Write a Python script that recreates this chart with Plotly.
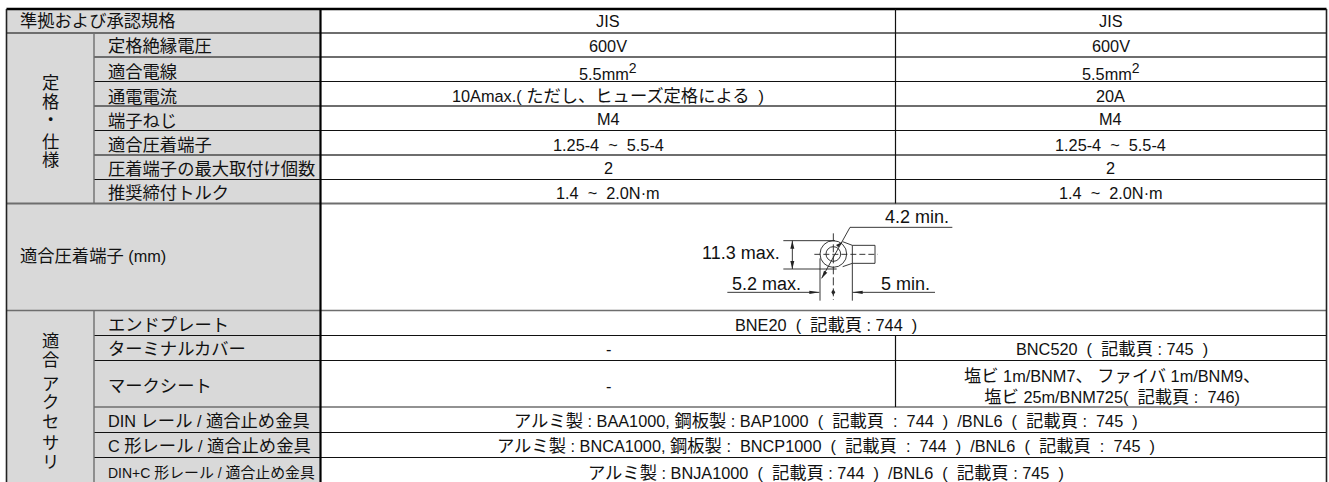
import re
import plotly.graph_objects as go

# ---- table content ----
standard_label = "準拠および承認規格"
standard_values = ["JIS", "JIS"]

spec_group = list("定格・仕様")
spec_labels = ["定格絶縁電圧", "適合電線", "通電電流", "端子ねじ", "適合圧着端子", "圧着端子の最大取付け個数", "推奨締付トルク"]
SUP2 = '<sup><span style="font-size:14px">2</span></sup>'
spec_col1 = ["600V", "5.5mm" + SUP2, "10Amax.( ただし、ヒューズ定格による  )", "M4", "1.25-4  ~  5.5-4", "2", "1.4  ~  2.0N·m"]
spec_col2 = ["600V", "5.5mm" + SUP2, "20A", "M4", "1.25-4  ~  5.5-4", "2", "1.4  ~  2.0N·m"]

terminal_label = "適合圧着端子 (mm)"
dim_labels = ["4.2 min.", "11.3 max.", "5.2 max.", "5 min."]

acc_group = list("適合アクセサリ")
acc_labels = ["エンドプレート", "ターミナルカバー", "マークシート", "DIN レール / 適合止め金具", "C 形レール / 適合止め金具", "DIN+C 形レール / 適合止め金具"]
acc_merged = {
    0: "BNE20  (  記載頁 : 744  )",
    3: "アルミ製 : BAA1000, 鋼板製 : BAP1000  (  記載頁  :  744  )  /BNL6  (  記載頁 :  745  )",
    4: "アルミ製 : BNCA1000, 鋼板製 :  BNCP1000  (  記載頁  :  744  )  /BNL6  (  記載頁  :  745  )",
    5: "アルミ製 : BNJA1000  (  記載頁 : 744  )  /BNL6  (  記載頁 : 745  )",
}
acc_split = {
    1: ["-", "BNC520  (  記載頁 : 745  )"],
    2: ["-", "塩ビ 1m/BNM7、 ファイバ 1m/BNM9、<br>塩ビ 25m/BNM725(  記載頁 :  746)"],
}

# ---- layout geometry ----
W, H = 1329, 482
X_L, X_G, X_H, X_C, X_R = 6.5, 94, 320.5, 895.5, 1326.5
Y_TOP = 9
SPEC_Y = [33, 57, 81.5, 106, 130.5, 155, 179.5, 203.5]
Y_DIAG = 310.5
ACC_Y = [335.5, 360.5, 407, 432.5, 457.5]
GRAY = "#6e6e6e"
BLACK = "#111111"
FILL = "#d9d9d9"
FONT = "Liberation Sans, Arial, Noto Sans CJK JP"
FS = 16.3
CJK_RATIO = 17.3 / 16.3

shapes, ann = [], []


def line(x0, y0, x1, y1, color=BLACK, w=1.2, dash=None):
    shapes.append(dict(type="line", x0=x0, y0=y0, x1=x1, y1=y1, layer="above",
                       line=dict(color=color, width=w, dash=dash)))


def rect(x0, y0, x1, y1):
    shapes.append(dict(type="rect", x0=x0, y0=y0, x1=x1, y1=y1, fillcolor=FILL, line=dict(width=0), layer="below"))


def widen_cjk(s, size):
    px = size * CJK_RATIO
    return re.sub(r"([^\x00-\x7f·]+)", lambda m: f'<span style="font-size:{px:.1f}px">{m.group(1)}</span>', s)


def text(x, y, s, anchor="center", size=FS):
    ann.append(dict(x=x, y=y, text=widen_cjk(s, size), showarrow=False, xanchor=anchor, yanchor="middle",
                    align="center", font=dict(family=FONT, size=size, color="#111111")))


rect(X_L, Y_TOP, X_H, H)

# rules
line(X_L, Y_TOP, X_R, Y_TOP, "#000000", 2.6)
light = {33, 57, 106, 155, 203.5}
for y in SPEC_Y[:-1]:
    x0 = X_L if y == SPEC_Y[0] else X_G
    if y in light:
        line(x0, y, X_R, y, GRAY, 1.8)
    else:
        line(x0, y, X_R, y, BLACK, 1.2)
line(X_L, SPEC_Y[-1], X_R, SPEC_Y[-1], GRAY, 2)
line(X_L, Y_DIAG, X_R, Y_DIAG, GRAY, 1.5)
for y, c, w in zip(ACC_Y, [BLACK, BLACK, GRAY, BLACK, BLACK], [1, 1.2, 1.3, 1.2, 1.2]):
    line(X_G, y, X_R, y, c, w)
line(X_L, Y_TOP, X_L, H, "#222222", 1.6)
line(X_G, SPEC_Y[0], X_G, SPEC_Y[-1], GRAY, 1.4)
line(X_G, Y_DIAG, X_G, H, GRAY, 1.4)
line(X_H, Y_TOP, X_H, H, "#000000", 2.2)
line(X_C, Y_TOP, X_C, SPEC_Y[-1], BLACK, 1.2)
line(X_C, ACC_Y[0], X_C, ACC_Y[2], BLACK, 1.2)
line(X_R, Y_TOP, X_R, H, "#222222", 1.6)

# text
XC1, XC2, XM = 608, 1110.5, 823.5
X_SUB = 106
text(18, 21, standard_label, "left")
text(XC1, 21, standard_values[0])
text(XC2, 21, standard_values[1])

spec_text_y = [46, 71.5, 96.5, 121, 145, 169, 192.5]
spec_val_y = [46, 71, 96, 119, 145, 168, 193]
for i, s in enumerate(spec_labels):
    text(X_SUB, spec_text_y[i], s, "left")
    text(XC1, spec_val_y[i], spec_col1[i])
    text(XC2, spec_val_y[i], spec_col2[i])

for s, y in zip(spec_group, [83, 102, 120, 142, 160]):
    text(50, y, s)
text(18, 256, terminal_label, "left")
for s, y in zip(acc_group, [341, 360, 384, 402, 422, 443, 462]):
    text(50, y, s)

acc_text_y = [324.5, 349, 386, 421, 446, 473]
acc_sizes = [FS, FS, FS, FS, FS, 14]
merged_y = {0: 325, 3: 421, 4: 446, 5: 473}
merged_x = {0: XM + 2, 3: 826, 4: 825.5, 5: XM + 2}
split_y = {1: 349, 2: 386}
for i, s in enumerate(acc_labels):
    text(X_SUB, acc_text_y[i], s, "left", acc_sizes[i])
    if i in acc_merged:
        text(merged_x[i], merged_y[i], acc_merged[i])
    else:
        text(XC1, split_y[i], acc_split[i][0])
        text(XC2 + 1, split_y[i], acc_split[i][1])


# ---- terminal diagram (drawn in zoom-derived local coordinates) ----
def dx(v):
    return 620 + v / 3


def dy(v):
    return 200 + v / 3


def dl(x0, y0, x1, y1, w=0.9, dash=None):
    line(dx(x0), dy(y0), dx(x1), dy(y1), "#222222", w, dash)


def tri(pts):
    p = "M " + " L ".join(f"{dx(a):.1f},{dy(b):.1f}" for a, b in pts) + " Z"
    shapes.append(dict(type="path", path=p, fillcolor="#222222", line=dict(width=0), layer="above"))


def circ(cx, cy, r):
    shapes.append(dict(type="circle", x0=dx(cx - r), x1=dx(cx + r), y0=dy(cy - r), y1=dy(cy + r),
                       line=dict(color="#222222", width=0.9), layer="above"))


circ(640, 162, 40)
circ(640, 162, 22)
dl(668, 125, 697, 136)
dl(668, 200, 697, 190)
dl(697, 136, 765, 136)
dl(697, 190, 765, 190)
dl(765, 136, 765, 190)
dl(697, 136, 697, 190)
dl(583, 163, 773, 163, dash="6px,3px")
dl(640, 100, 640, 300, dash="8px,3px")
dl(600, 175, 600, 302)
dl(697, 190, 697, 302)
dl(490, 122, 645, 122)
dl(490, 207, 650, 207)
dl(517, 122, 517, 207)
tri([(517, 122), (511, 146), (523, 146)])
tri([(517, 207), (511, 183), (523, 183)])
dl(997, 82, 690, 82)
dl(690, 82, 605, 235)
tri([(605, 235), (612, 212), (622, 218)])
tri([(668, 125), (655, 142), (648, 135)])
dl(322, 277, 598, 277)
dl(698, 277, 945, 277)
tri([(598, 277), (568, 272), (568, 282)])
tri([(698, 277), (728, 272), (728, 282)])
tri([(640, 268), (634, 277), (640, 286)])
tri([(640, 268), (646, 277), (640, 286)])
for s, (a, b) in zip(dim_labels, [(890, 52), (362, 160), (438, 252), (855, 252)]):
    text(dx(a), dy(b), s, size=18)

fig = go.Figure()
fig.add_trace(go.Scatter(x=[0, W], y=[0, H], mode="markers", marker=dict(opacity=0), hoverinfo="skip", showlegend=False))
fig.update_layout(
    width=W, height=H, margin=dict(l=0, r=0, t=0, b=0),
    paper_bgcolor="white", plot_bgcolor="white", showlegend=False,
    xaxis=dict(range=[0, W], visible=False, fixedrange=True),
    yaxis=dict(range=[H, 0], visible=False, fixedrange=True),
    shapes=shapes, annotations=ann,
)
fig.write_html("out.html", config={"displayModeBar": False},
               post_script="document.body.style.margin='0';document.documentElement.style.overflow='hidden';")
